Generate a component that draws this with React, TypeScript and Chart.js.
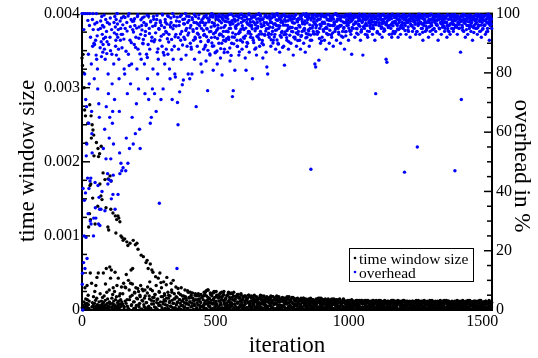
import React, { useEffect, useRef } from 'react';
import { Chart, registerables } from 'chart.js';

Chart.register(...registerables);

const FONT = '"Liberation Serif", "Times New Roman", serif';

const xTitle = 'iteration';
const leftTitle = 'time window size';
const rightTitle = 'overhead in %';
const seriesLabels = ['time window size', 'overhead'];

const xMajorTicks = [0, 500, 1000, 1500];
const xTickLabels = ['0', '500', '1000', '1500'];
const xMinorTicks = [250, 750, 1250];
const sizeMajorTicks = [0, 0.001, 0.002, 0.003, 0.004];
const sizeTickLabels = ['0', '0.001', '0.002', '0.003', '0.004'];
const sizeMinorTicks = [0.00025, 0.0005, 0.00075, 0.00125, 0.0015, 0.00175, 0.00225, 0.0025, 0.00275, 0.00325, 0.0035, 0.00375];
const pctMajorTicks = [0, 20, 40, 60, 80, 100];
const pctTickLabels = ['0', '20', '40', '60', '80', '100'];
const pctMinorTicks = [5, 10, 15, 25, 30, 35, 45, 50, 55, 65, 70, 75, 85, 90, 95];

const iterations = [
  0,1,2,3,4,5,6,7,8,9,
  10,11,12,13,14,15,16,17,18,19,
  20,21,22,23,24,25,26,27,28,29,
  30,31,32,33,34,35,36,37,38,39,
  40,41,42,43,44,45,46,47,48,49,
  50,51,52,53,54,55,56,57,58,59,
  60,61,62,63,64,65,66,67,68,69,
  70,71,72,73,74,75,76,77,78,79,
  80,81,82,83,84,85,86,87,88,89,
  90,91,92,93,94,95,96,97,98,99,
  100,101,102,103,104,105,106,107,108,109,
  110,111,112,113,114,115,116,117,118,119,
  120,121,122,123,124,125,126,127,128,129,
  130,131,132,133,134,135,136,137,138,139,
  140,141,142,143,144,145,146,147,148,149,
  150,
  152,154,156,158,160,162,164,166,168,170,
  172,174,176,178,180,182,184,186,188,190,
  192,194,196,198,200,202,204,206,208,210,
  212,214,216,218,220,222,224,226,228,230,
  232,234,236,238,240,242,244,246,248,250,
  252,254,256,258,260,262,264,266,268,270,
  272,274,276,278,280,282,284,286,288,290,
  292,294,296,298,300,302,304,306,308,310,
  312,314,316,318,320,322,324,326,328,330,
  332,334,336,338,340,342,344,346,348,350,
  352,354,356,358,360,362,364,366,368,370,
  372,374,376,378,380,382,384,386,388,390,
  392,394,396,398,400,402,404,406,408,410,
  412,414,416,418,420,422,424,426,428,430,
  432,434,436,438,440,442,444,446,448,450,
  453,456,459,462,465,468,471,474,477,480,
  483,486,489,492,495,498,501,504,507,510,
  513,516,519,522,525,528,531,534,537,540,
  543,546,549,552,555,558,561,564,567,570,
  573,576,579,582,585,588,591,594,597,600,
  603,606,609,612,615,618,621,624,627,630,
  633,636,639,642,645,648,651,654,657,660,
  663,666,669,672,675,678,681,684,687,690,
  693,696,699,702,705,708,711,714,717,720,
  723,726,729,732,735,738,741,744,747,750,
  753,756,759,762,765,768,771,774,777,780,
  783,786,789,792,795,798,801,804,807,810,
  813,816,819,822,825,828,831,834,837,840,
  843,846,849,852,855,858,861,864,867,870,
  873,876,879,882,885,888,891,894,897,900,
  903,906,909,912,915,918,921,924,927,930,
  933,936,939,942,945,948,951,954,957,960,
  963,966,969,972,975,978,981,984,987,990,
  993,996,999,1002,1005,1008,1011,1014,1017,1020,
  1023,1026,1029,1032,1035,1038,1041,1044,1047,1050,
  1053,1056,1059,1062,1065,1068,1071,1074,1077,1080,
  1083,1086,1089,1092,1095,1098,1101,1104,1107,1110,
  1113,1116,1119,1122,1125,1128,1131,1134,1137,1140,
  1143,1146,1149,1152,1155,1158,1161,1164,1167,1170,
  1173,1176,1179,1182,1185,1188,1191,1194,1197,1200,
  1203,1206,1209,1212,1215,1218,1221,1224,1227,1230,
  1233,1236,1239,1242,1245,1248,1251,1254,1257,1260,
  1263,1266,1269,1272,1275,1278,1281,1284,1287,1290,
  1293,1296,1299,1302,1305,1308,1311,1314,1317,1320,
  1323,1326,1329,1332,1335,1338,1341,1344,1347,1350,
  1353,1356,1359,1362,1365,1368,1371,1374,1377,1380,
  1383,1386,1389,1392,1395,1398,1401,1404,1407,1410,
  1413,1416,1419,1422,1425,1428,1431,1434,1437,1440,
  1443,1446,1449,1452,1455,1458,1461,1464,1467,1470,
  1473,1476,1479,1482,1485,1488,1491,1494,1497,1500,
  1503,1506,1509,1512,1515,1518,1521,1524,1527,1530,
  1533,1536,
  153,157,161,165,169,173,177,181,185,189,
  193,197,201,205,209,213,217,221,225,229,
  233,237,241,245,249,253,257,261,265,269,
  273,277,281,285,289,293,297,301,305,309,
  313,317,321,325,329,333,337,341,345,349,
  353,357,361,365,369,373,377,381,385,389,
  393,397,401,405,409,413,417,421,425,429,
  433,437,441,445,449,
  454,457,460,463,466,469,472,475,478,481,
  484,487,490,493,496,499,502,505,508,511,
  514,517,520,523,526,529,532,535,538,541,
  544,547,550,553,556,559,562,565,568,571,
  574,577,580,583,586,589,592,595,598,601,
  604,607,610,613,616,619,622,625,628,631,
  634,637,640,643,646,649,652,655,658,661,
  664,667,670,673,676,679,682,685,688,691,
  694,697,700,703,706,709,712,715,718,721,
  724,727,730,733,736,739,742,745,748,751,
  754,757,760,763,766,769,772,775,778,781,
  784,787,790,793,796,799,802,805,808,811,
  814,817,820,823,826,829,832,835,838,841,
  844,847,850,853,856,859,862,865,868,871,
  874,877,880,883,886,889,892,895,898,901,
  904,907,910,913,916,919,922,925,928,931,
  934,937,940,943,946,949,952,955,958,961,
  964,967,970,973,976,979,982,985,988,991,
  994,997,1000,1003,1006,1009,1012,1015,1018,1021,
  1024,1027,1030,1033,1036,1039,1042,1045,1048,1051,
  1054,1057,1060,1063,1066,1069,1072,1075,1078,1081,
  1084,1087,1090,1093,1096,1099,1102,1105,1108,1111,
  1114,1117,1120,1123,1126,1129,1132,1135,1138,1141,
  1144,1147,1150,1153,1156,1159,1162,1165,1168,1171,
  1174,1177,1180,1183,1186,1189,1192,1195,1198,1201,
  1204,1207,1210,1213,1216,1219,1222,1225,1228,1231,
  1234,1237,1240,1243,1246,1249,1252,1255,1258,1261,
  1264,1267,1270,1273,1276,1279,1282,1285,1288,1291,
  1294,1297,1300,1303,1306,1309,1312,1315,1318,1321,
  1324,1327,1330,1333,1336,1339,1342,1345,1348,1351,
  1354,1357,1360,1363,1366,1369,1372,1375,1378,1381,
  1384,1387,1390,1393,1396,1399,1402,1405,1408,1411,
  1414,1417,1420,1423,1426,1429,1432,1435,1438,1441,
  1444,1447,1450,1453,1456,1459,1462,1465,1468,1471,
  1474,1477,1480,1483,1486,1489,1492,1495,1498,1501,
  1504,1507,1510,1513,1516,1519,1522,1525,1528,1531,
  1534,
  455,458,461,464,467,470,473,476,479,482,
  485,488,491,494,497,500,503,506,509,512,
  515,518,521,524,527,530,533,536,539,542,
  545,548,551,554,557,560,563,566,569,572,
  575,578,581,584,587,590,593,596,599,602,
  605,608,611,614,617,620,623,626,629,632,
  635,638,641,644,647,650,653,656,659,662,
  665,668,671,674,677,680,683,686,689,692,
  695,698,701,704,707,710,713,716,719,722,
  725,728,731,734,737,740,743,746,749,752,
  755,758,761,764,767,770,773,776,779,782,
  785,788,791,794,797,800,803,806,809,812,
  815,818,821,824,827,830,833,836,839,842,
  845,848,851,854,857,860,863,866,869,872,
  875,878,881,884,887,890,893,896,899,902,
  905,908,911,914,917,920,923,926,929,932,
  935,938,941,944,947,950,953,956,959,962,
  965,968,971,974,977,980,983,986,989,992,
  995,998,1001,1004,1007,1010,1013,1016,1019,1022,
  1025,1028,1031,1034,1037,1040,1043,1046,1049,1052,
  1055,1058,1061,1064,1067,1070,1073,1076,1079,1082,
  1085,1088,1091,1094,1097,1100,1103,1106,1109,1112,
  1115,1118,1121,1124,1127,1130,1133,1136,1139,1142,
  1145,1148,1151,1154,1157,1160,1163,1166,1169,1172,
  1175,1178,1181,1184,1187,1190,1193,1196,1199,1202,
  1205,1208,1211,1214,1217,1220,1223,1226,1229,1232,
  1235,1238,1241,1244,1247,1250,1253,1256,1259,1262,
  1265,1268,1271,1274,1277,1280,1283,1286,1289,1292,
  1295,1298,1301,1304,1307,1310,1313,1316,1319,1322,
  1325,1328,1331,1334,1337,1340,1343,1346,1349,1352,
  1355,1358,1361,1364,1367,1370,1373,1376,1379,1382,
  1385,1388,1391,1394,1397,1400,1403,1406,1409,1412,
  1415,1418,1421,1424,1427,1430,1433,1436,1439,1442,
  1445,1448,1451,1454,1457,1460,1463,1466,1469,1472,
  1475,1478,1481,1484,1487,1490,1493,1496,1499,1502,
  1505,1508,1511,1514,1517,1520,1523,1526,1529,1532,
  1535,
];

// time window size (seconds), one value per entry of iterations
const timeWindowSize = [
  340e-5,3e-5,330e-5,6e-5,345e-5,2e-5,320e-5,11e-5,300e-5,4e-5,
  270e-5,30e-5,8e-5,262e-5,15e-5,5e-5,225e-5,1e-5,9e-5,33e-5,
  14e-5,3e-5,252e-5,20e-5,7e-5,112e-5,2e-5,12e-5,130e-5,277e-5,
  168e-5,50e-5,122e-5,170e-5,262e-5,232e-5,36e-5,4e-5,250e-5,10e-5,
  151e-5,243e-5,6e-5,18e-5,236e-5,208e-5,3e-5,9e-5,25e-5,116e-5,
  1e-5,13e-5,33e-5,5e-5,226e-5,16e-5,44e-5,2e-5,7e-5,140e-5,
  218e-5,50e-5,207e-5,4e-5,11e-5,1e-5,211e-5,170e-5,22e-5,6e-5,
  3e-5,154e-5,221e-5,12e-5,5e-5,149e-5,8e-5,17e-5,2e-5,185e-5,
  50e-5,10e-5,4e-5,19e-5,1e-5,6e-5,176e-5,13e-5,35e-5,3e-5,
  138e-5,56e-5,7e-5,24e-5,2e-5,9e-5,15e-5,112e-5,177e-5,5e-5,
  108e-5,3e-5,27e-5,11e-5,58e-5,181e-5,8e-5,43e-5,136e-5,174e-5,
  54e-5,4e-5,16e-5,2e-5,9e-5,21e-5,131e-5,30e-5,6e-5,12e-5,
  1e-5,7e-5,25e-5,3e-5,51e-5,127e-5,14e-5,104e-5,5e-5,18e-5,
  122e-5,33e-5,2e-5,10e-5,6e-5,127e-5,43e-5,12e-5,124e-5,3e-5,
  19e-5,8e-5,119e-5,22e-5,4e-5,14e-5,100e-5,6e-5,31e-5,11e-5,
  98e-5,
  8e-5,94e-5,36e-5,3e-5,96e-5,12e-5,30e-5,48e-5,92e-5,5e-5,
  87e-5,40e-5,1e-5,14e-5,90e-5,36e-5,54e-5,7e-5,20e-5,56e-5,
  94e-5,2e-5,11e-5,23e-5,88e-5,30e-5,6e-5,90e-5,15e-5,82e-5,
  25e-5,4e-5,9e-5,18e-5,33e-5,74e-5,1e-5,28e-5,12e-5,72e-5,
  7e-5,16e-5,27e-5,3e-5,64e-5,10e-5,67e-5,31e-5,56e-5,5e-5,
  19e-5,38e-5,62e-5,2e-5,13e-5,54e-5,26e-5,51e-5,8e-5,17e-5,
  4e-5,21e-5,45e-5,33e-5,10e-5,1e-5,15e-5,43e-5,6e-5,24e-5,
  50e-5,11e-5,37e-5,30e-5,3e-5,18e-5,8e-5,38e-5,14e-5,20e-5,
  2e-5,12e-5,34e-5,44e-5,6e-5,24e-5,16e-5,1e-5,10e-5,19e-5,
  5e-5,36e-5,27e-5,13e-5,3e-5,40e-5,9e-5,22e-5,15e-5,2e-5,
  31e-5,7e-5,17e-5,11e-5,29e-5,23e-5,4e-5,14e-5,9e-5,1e-5,
  30e-5,12e-5,19e-5,6e-5,15e-5,3e-5,10e-5,27e-5,18e-5,8e-5,
  13e-5,2e-5,26e-5,24e-5,7e-5,16e-5,11e-5,24e-5,4e-5,17e-5,
  9e-5,23e-5,16e-5,1e-5,12e-5,6e-5,20e-5,14e-5,19e-5,3e-5,
  10e-5,7e-5,22e-5,13e-5,15e-5,2e-5,11e-5,21e-5,5e-5,18e-5,
  4e-5,19e-5,9e-5,24e-5,2e-5,13e-5,27e-5,6e-5,16e-5,10e-5,
  1e-5,22e-5,8e-5,14e-5,25e-5,3e-5,11e-5,18e-5,5e-5,20e-5,
  12e-5,2e-5,23e-5,7e-5,17e-5,1e-5,21e-5,9e-5,14e-5,4e-5,
  19e-5,6e-5,24e-5,11e-5,3e-5,15e-5,8e-5,22e-5,1e-5,13e-5,
  7e-5,18e-5,2e-5,21e-5,10e-5,16e-5,4e-5,12e-5,20e-5,6e-5,
  14e-5,1e-5,19e-5,8e-5,17e-5,3e-5,11e-5,20e-5,5e-5,9e-5,
  2e-5,16e-5,12e-5,6e-5,19e-5,1e-5,13e-5,18e-5,4e-5,10e-5,
  15e-5,7e-5,20e-5,3e-5,11e-5,17e-5,1e-5,9e-5,14e-5,5e-5,
  18e-5,2e-5,12e-5,16e-5,6e-5,19e-5,10e-5,3e-5,13e-5,8e-5,
  1e-5,17e-5,9e-5,14e-5,4e-5,18e-5,7e-5,12e-5,2e-5,15e-5,
  11e-5,5e-5,16e-5,1e-5,13e-5,8e-5,17e-5,3e-5,10e-5,6e-5,
  14e-5,2e-5,9e-5,16e-5,5e-5,12e-5,1e-5,15e-5,7e-5,11e-5,
  3e-5,13e-5,8e-5,15e-5,1e-5,10e-5,16e-5,6e-5,12e-5,4e-5,
  9e-5,14e-5,2e-5,11e-5,7e-5,15e-5,3e-5,12e-5,5e-5,10e-5,
  1e-5,13e-5,8e-5,14e-5,4e-5,10e-5,16e-5,2e-5,11e-5,6e-5,
  12e-5,3e-5,9e-5,15e-5,1e-5,7e-5,13e-5,5e-5,10e-5,2e-5,
  14e-5,6e-5,11e-5,1e-5,9e-5,13e-5,4e-5,12e-5,8e-5,3e-5,
  10e-5,15e-5,2e-5,7e-5,12e-5,5e-5,14e-5,1e-5,9e-5,11e-5,
  4e-5,13e-5,8e-5,2e-5,11e-5,6e-5,14e-5,3e-5,10e-5,1e-5,
  12e-5,5e-5,9e-5,13e-5,2e-5,7e-5,11e-5,4e-5,13e-5,1e-5,
  8e-5,12e-5,3e-5,10e-5,6e-5,13e-5,1e-5,9e-5,11e-5,4e-5,
  2e-5,11e-5,7e-5,13e-5,5e-5,9e-5,1e-5,12e-5,4e-5,10e-5,
  13e-5,3e-5,8e-5,11e-5,1e-5,6e-5,12e-5,4e-5,9e-5,2e-5,
  10e-5,5e-5,12e-5,1e-5,8e-5,11e-5,3e-5,13e-5,6e-5,2e-5,
  9e-5,12e-5,4e-5,7e-5,11e-5,1e-5,10e-5,5e-5,12e-5,3e-5,
  6e-5,11e-5,2e-5,9e-5,12e-5,4e-5,8e-5,1e-5,10e-5,7e-5,
  3e-5,10e-5,11e-5,5e-5,1e-5,9e-5,12e-5,4e-5,7e-5,2e-5,
  11e-5,6e-5,1e-5,10e-5,8e-5,3e-5,11e-5,5e-5,9e-5,2e-5,
  7e-5,10e-5,4e-5,1e-5,11e-5,6e-5,9e-5,2e-5,10e-5,5e-5,
  1e-5,9e-5,11e-5,4e-5,7e-5,10e-5,2e-5,8e-5,11e-5,3e-5,
  10e-5,5e-5,2e-5,9e-5,11e-5,1e-5,7e-5,10e-5,4e-5,6e-5,
  2e-5,11e-5,8e-5,3e-5,10e-5,6e-5,1e-5,9e-5,11e-5,4e-5,
  9e-5,4e-5,10e-5,1e-5,7e-5,11e-5,3e-5,8e-5,2e-5,10e-5,
  5e-5,11e-5,2e-5,9e-5,6e-5,10e-5,1e-5,8e-5,11e-5,3e-5,
  10e-5,4e-5,7e-5,11e-5,1e-5,9e-5,5e-5,10e-5,2e-5,8e-5,
  3e-5,10e-5,6e-5,1e-5,11e-5,8e-5,2e-5,9e-5,10e-5,4e-5,
  7e-5,10e-5,
  22e-5,5e-5,31e-5,9e-5,14e-5,2e-5,27e-5,18e-5,6e-5,35e-5,
  11e-5,24e-5,3e-5,16e-5,29e-5,7e-5,20e-5,1e-5,13e-5,26e-5,
  4e-5,19e-5,10e-5,23e-5,2e-5,15e-5,28e-5,8e-5,17e-5,12e-5,
  21e-5,3e-5,14e-5,9e-5,25e-5,6e-5,18e-5,1e-5,11e-5,22e-5,
  7e-5,16e-5,2e-5,20e-5,12e-5,5e-5,24e-5,9e-5,15e-5,3e-5,
  18e-5,10e-5,1e-5,14e-5,21e-5,6e-5,12e-5,19e-5,4e-5,16e-5,
  9e-5,2e-5,17e-5,11e-5,20e-5,5e-5,13e-5,8e-5,22e-5,1e-5,
  14e-5,19e-5,6e-5,10e-5,17e-5,
  14e-5,3e-5,21e-5,8e-5,26e-5,1e-5,17e-5,11e-5,5e-5,23e-5,
  9e-5,19e-5,2e-5,15e-5,24e-5,6e-5,12e-5,20e-5,1e-5,16e-5,
  4e-5,22e-5,10e-5,18e-5,3e-5,13e-5,25e-5,7e-5,15e-5,1e-5,
  20e-5,11e-5,2e-5,17e-5,8e-5,23e-5,5e-5,14e-5,19e-5,3e-5,
  12e-5,1e-5,18e-5,9e-5,21e-5,4e-5,16e-5,6e-5,13e-5,2e-5,
  17e-5,6e-5,11e-5,19e-5,3e-5,14e-5,1e-5,9e-5,18e-5,7e-5,
  12e-5,2e-5,16e-5,8e-5,20e-5,4e-5,13e-5,10e-5,1e-5,15e-5,
  5e-5,18e-5,9e-5,14e-5,2e-5,11e-5,19e-5,6e-5,12e-5,3e-5,
  16e-5,1e-5,10e-5,17e-5,7e-5,13e-5,4e-5,18e-5,2e-5,9e-5,
  14e-5,8e-5,19e-5,3e-5,11e-5,15e-5,1e-5,12e-5,6e-5,17e-5,
  4e-5,13e-5,9e-5,16e-5,2e-5,18e-5,10e-5,5e-5,14e-5,1e-5,
  11e-5,17e-5,3e-5,8e-5,15e-5,6e-5,12e-5,1e-5,16e-5,9e-5,
  2e-5,14e-5,7e-5,12e-5,4e-5,16e-5,9e-5,1e-5,13e-5,6e-5,
  10e-5,3e-5,15e-5,8e-5,1e-5,12e-5,5e-5,14e-5,9e-5,2e-5,
  13e-5,6e-5,11e-5,1e-5,16e-5,4e-5,10e-5,7e-5,15e-5,3e-5,
  8e-5,12e-5,2e-5,14e-5,5e-5,10e-5,1e-5,13e-5,6e-5,11e-5,
  3e-5,15e-5,9e-5,1e-5,12e-5,7e-5,14e-5,4e-5,10e-5,2e-5,
  14e-5,5e-5,11e-5,8e-5,1e-5,13e-5,3e-5,9e-5,12e-5,6e-5,
  1e-5,11e-5,6e-5,13e-5,3e-5,9e-5,12e-5,2e-5,8e-5,10e-5,
  5e-5,12e-5,1e-5,10e-5,7e-5,13e-5,4e-5,11e-5,2e-5,9e-5,
  12e-5,3e-5,9e-5,6e-5,11e-5,1e-5,13e-5,5e-5,10e-5,7e-5,
  2e-5,10e-5,13e-5,4e-5,8e-5,11e-5,1e-5,12e-5,6e-5,9e-5,
  11e-5,5e-5,8e-5,12e-5,2e-5,10e-5,6e-5,13e-5,3e-5,9e-5,
  7e-5,1e-5,11e-5,9e-5,4e-5,12e-5,8e-5,2e-5,13e-5,5e-5,
  10e-5,6e-5,2e-5,12e-5,9e-5,1e-5,11e-5,4e-5,8e-5,12e-5,
  3e-5,13e-5,7e-5,10e-5,5e-5,11e-5,2e-5,9e-5,12e-5,1e-5,
  9e-5,4e-5,12e-5,6e-5,10e-5,2e-5,11e-5,8e-5,1e-5,13e-5,
  6e-5,11e-5,3e-5,9e-5,12e-5,5e-5,10e-5,1e-5,7e-5,11e-5,
  12e-5,2e-5,8e-5,11e-5,4e-5,9e-5,13e-5,6e-5,10e-5,3e-5,
  1e-5,10e-5,6e-5,12e-5,8e-5,3e-5,11e-5,5e-5,9e-5,12e-5,
  11e-5,7e-5,2e-5,10e-5,13e-5,4e-5,8e-5,12e-5,1e-5,9e-5,
  5e-5,12e-5,9e-5,3e-5,11e-5,7e-5,1e-5,10e-5,6e-5,12e-5,
  10e-5,2e-5,11e-5,8e-5,4e-5,12e-5,6e-5,9e-5,3e-5,11e-5,
  7e-5,13e-5,1e-5,10e-5,5e-5,11e-5,8e-5,2e-5,12e-5,6e-5,
  12e-5,4e-5,9e-5,11e-5,2e-5,10e-5,6e-5,13e-5,3e-5,8e-5,
  1e-5,11e-5,7e-5,12e-5,9e-5,4e-5,10e-5,5e-5,11e-5,2e-5,
  8e-5,
  6e-5,24e-5,12e-5,2e-5,19e-5,9e-5,27e-5,15e-5,4e-5,21e-5,
  13e-5,1e-5,23e-5,10e-5,17e-5,5e-5,25e-5,8e-5,19e-5,3e-5,
  18e-5,7e-5,14e-5,24e-5,1e-5,20e-5,11e-5,3e-5,16e-5,9e-5,
  2e-5,21e-5,13e-5,6e-5,22e-5,10e-5,17e-5,1e-5,24e-5,8e-5,
  15e-5,4e-5,19e-5,11e-5,2e-5,17e-5,7e-5,22e-5,10e-5,14e-5,
  3e-5,18e-5,8e-5,13e-5,1e-5,16e-5,10e-5,20e-5,5e-5,12e-5,
  19e-5,4e-5,9e-5,15e-5,11e-5,2e-5,17e-5,7e-5,14e-5,1e-5,
  10e-5,16e-5,4e-5,19e-5,8e-5,13e-5,2e-5,17e-5,6e-5,11e-5,
  5e-5,14e-5,1e-5,9e-5,16e-5,3e-5,12e-5,18e-5,7e-5,15e-5,
  10e-5,2e-5,13e-5,6e-5,17e-5,11e-5,4e-5,15e-5,1e-5,12e-5,
  16e-5,7e-5,3e-5,12e-5,9e-5,15e-5,1e-5,18e-5,6e-5,13e-5,
  4e-5,10e-5,17e-5,2e-5,13e-5,8e-5,15e-5,5e-5,11e-5,1e-5,
  12e-5,6e-5,16e-5,3e-5,10e-5,14e-5,1e-5,9e-5,15e-5,5e-5,
  1e-5,13e-5,6e-5,11e-5,16e-5,4e-5,9e-5,14e-5,2e-5,12e-5,
  7e-5,15e-5,3e-5,10e-5,1e-5,13e-5,8e-5,16e-5,5e-5,11e-5,
  14e-5,1e-5,10e-5,6e-5,13e-5,3e-5,15e-5,8e-5,11e-5,4e-5,
  9e-5,12e-5,2e-5,15e-5,7e-5,1e-5,11e-5,14e-5,5e-5,10e-5,
  3e-5,13e-5,7e-5,1e-5,10e-5,15e-5,4e-5,12e-5,8e-5,2e-5,
  12e-5,3e-5,9e-5,7e-5,11e-5,1e-5,13e-5,5e-5,10e-5,6e-5,
  8e-5,13e-5,2e-5,11e-5,5e-5,12e-5,1e-5,9e-5,13e-5,4e-5,
  11e-5,2e-5,13e-5,7e-5,4e-5,10e-5,12e-5,1e-5,8e-5,12e-5,
  6e-5,9e-5,1e-5,12e-5,10e-5,3e-5,13e-5,7e-5,11e-5,2e-5,
  9e-5,13e-5,5e-5,1e-5,11e-5,7e-5,4e-5,12e-5,10e-5,1e-5,
  12e-5,3e-5,9e-5,6e-5,11e-5,13e-5,2e-5,8e-5,10e-5,5e-5,
  4e-5,11e-5,7e-5,13e-5,1e-5,12e-5,6e-5,9e-5,3e-5,11e-5,
  13e-5,1e-5,10e-5,5e-5,8e-5,12e-5,3e-5,11e-5,6e-5,9e-5,
  7e-5,12e-5,2e-5,9e-5,11e-5,4e-5,13e-5,1e-5,10e-5,6e-5,
  9e-5,3e-5,12e-5,7e-5,1e-5,10e-5,13e-5,4e-5,11e-5,8e-5,
  2e-5,11e-5,6e-5,13e-5,9e-5,1e-5,12e-5,5e-5,8e-5,11e-5,
  12e-5,4e-5,9e-5,2e-5,11e-5,7e-5,13e-5,1e-5,10e-5,6e-5,
  6e-5,13e-5,1e-5,11e-5,4e-5,9e-5,12e-5,3e-5,8e-5,10e-5,
  11e-5,7e-5,10e-5,1e-5,12e-5,5e-5,9e-5,13e-5,3e-5,8e-5,
  4e-5,12e-5,6e-5,11e-5,13e-5,2e-5,10e-5,5e-5,12e-5,1e-5,
  12e-5,3e-5,9e-5,13e-5,1e-5,11e-5,6e-5,10e-5,4e-5,12e-5,
  8e-5,1e-5,12e-5,5e-5,10e-5,13e-5,3e-5,11e-5,7e-5,9e-5,
  11e-5,6e-5,2e-5,12e-5,9e-5,1e-5,10e-5,13e-5,5e-5,11e-5,
  4e-5,
];

// overhead in %, one value per entry of iterations
const overheadPct = [
  100,8.7,12.4,0,41,100,16,94.6,25,37,
  79.6,14,100,39.5,71,24.5,52,68.6,56,17.4,
  100,44.5,97.7,32.5,86.3,63,41,76.3,96,100,
  43.5,30,92,44.5,29,83,67,59.5,53,98,
  89,100,94.6,25,31,90,78,89.6,96.5,43,
  34.5,91,31,86,100,84.6,97,92.5,81.3,74.6,
  42,94.6,29,69.6,38,65,34,28.5,88.5,95,
  97.5,34,90.5,85.5,99,40,93,96,87,89.6,
  54.5,91.5,95.5,99.5,88,61,33.5,84.6,92,98,
  51,68.6,94,86.5,90.5,97,46,42.5,79.6,73,
  89.6,44,58,96.5,65,92,98.5,87.5,51,43.5,
  37.5,94.6,86.3,76.3,63,67,39,45.5,56,83,
  97,93.5,71,99,34,95.5,89,91,98,86,
  93,100,100,96.5,92,39,94.6,88,84.6,78,
  67,53,46,97.5,91,95,49.5,93,98.5,47,
  88.5,
  93,48,99,81.3,79.6,95,47,58,97,73,
  49.5,86.3,100,54.5,91,76.3,98,83,65,94.6,
  56,97.5,89.6,96,59.5,92,69.6,81.3,99,88,
  74.6,95.5,61,54.5,93,84.6,96,98.5,90,91.3,
  97,83,73,94,96,86.3,99.5,78,89.6,71,
  95,88,63,97.5,65,92,74.6,81.3,99,90.5,
  73,96,93.5,67,98,87,79.6,84.6,95,36,
  91,97,71,96,89,99.5,74.6,93,86,83,
  98,94,88,96.5,91.5,86.3,99,93,81.3,78,
  95.5,97,91.3,71,100,84.6,96,89,79.6,78.6,
  93,97.5,14,70,62.5,88,96,73.6,99,91,
  84.6,94,76,98,77.6,92,96.5,91.3,100,86,
  95,89,97,79.6,93.5,99,78,90,96,88,
  79.6,98,94.6,91,97,84.6,92,99,68.6,95,
  89,96.5,93,99.5,87,92,97,83,95,80.3,
  97,88,93,99,84,95,74,91,98,86,
  94,100,89,80.9,96,92,87,99,83,95,
  90,97.5,85,93,79.3,98,91,88,96,94,
  99,87,92,95,84,97,90,72,74,98,
  80.9,93,96,89,99,86,94,91,97,88,
  95,92,99,85,80.9,97,90,94,87,98,
  93,96,78,91,99,88,95,86,97,92,
  100,89,94,98,90,85,96,93,99,87,
  82,79.6,95,92,98,89,97,94,91,99,
  93,88,96,100,90,95,87,98,92,94,
  97,89,82.6,99,93,91,96,88,95,98,
  90,94,97,86,99,92,95,89,98,93,
  96,91,88,99,94,97,90,95,87,100,
  92,98,93,89,95,47.5,91,99,94,97,
  83,82,96,93,98,84.3,95,90,99,92,
  97,94,91,99,88,95,98,93,90,96,
  99,92,96,89,97,94,100,91,98,95,
  93,98,90,96,99,92,95,88,97,94,
  96,99,91,97,94,93,86.3,98,95,99,
  92,97,95,99,93,96,98,91,94,97,
  86,99,95,93,98,96,92,99,94,97,
  95,98,93,96,99,91,73,97,94,98,
  96,93,99,95,92,98,94,97,99,84.6,
  83.6,96,98,93,99,95,92,97,94,99,
  97,94,99,96,92,98,95,93,99,97,
  95,98,46.5,96,93,99,97,94,98,92,
  99,96,94,98,95,97,93,99,55,96,
  98,93,97,95,99,91,96,98,94,97,
  95,99,92,97,94,98,96,93,99,95,
  97,94,99,96,91,98,95,97,93,99,
  96,98,94,97,99,92,95,98,96,93,
  99,95,97,94,98,47,96,99,93,97,
  95,98,87,71,96,99,94,97,92,98,
  96,93,99,95,98,94,97,91,99,96,
  98,95,97,93,99,96,94,98,92,97,
  95,99,96,93,98,97,94,99,91,96,
  98,95,
  96.2,91.4,98.7,87.3,94.1,99.2,82.5,95.6,90.2,97.4,
  93.8,98.3,88.6,95.1,99.6,91.7,86.4,97.9,94.5,89.8,
  98.9,92.6,96.4,85.2,99.1,93.3,97.2,90.8,95.7,98.1,
  91.2,96.8,99.4,88.1,94.7,97.6,92.4,99.8,86.9,95.3,
  97.1,93.6,99.3,90.4,96.2,98.5,87.8,94.9,99.0,92.2,
  95.8,98.8,91.9,97.3,93.1,99.5,89.4,96.6,98.2,94.3,
  99.1,92.8,97.7,95.2,88.7,98.6,94.0,99.7,91.5,96.9,
  93.4,98.4,95.9,90.6,97.8,
  98.4,92.7,96.1,89.3,99.5,94.8,87.6,97.2,93.9,99.0,
  95.5,90.1,98.8,93.2,96.7,86.8,99.3,94.4,91.6,97.9,
  99.6,93.1,88.2,96.9,98.6,92.3,95.4,99.2,90.7,97.3,
  94.1,98.2,91.3,99.7,96.2,85.9,97.6,93.5,99.1,92.0,
  97.4,95.0,99.4,88.9,96.5,98.7,93.7,91.1,99.8,95.9,
  99.2,94.6,97.8,92.5,98.9,90.3,96.4,99.6,93.8,97.1,
  95.7,98.5,91.8,99.3,96.9,94.2,88.4,98.1,95.1,99.7,
  93.0,97.5,99.1,95.6,90.9,98.3,96.0,92.7,99.5,94.9,
  98.8,96.3,93.4,99.0,97.0,91.2,98.6,95.3,99.4,92.1,
  96.6,99.8,94.5,97.7,89.7,98.2,95.8,99.2,93.6,97.4,
  99.5,92.9,98.0,96.1,99.1,94.3,97.6,90.5,98.7,95.4,
  97.9,99.3,93.9,96.8,98.4,91.4,99.6,95.0,97.2,94.0,
  98.1,95.5,99.4,92.6,97.3,99.8,94.7,96.5,99.0,93.3,
  96.9,99.2,94.1,98.6,91.0,97.8,99.5,95.9,93.2,98.3,
  99.7,95.2,97.5,99.1,93.7,98.0,96.3,99.4,90.8,97.1,
  94.6,98.9,96.7,99.3,95.4,97.9,92.9,99.6,96.1,98.5,
  97.7,99.0,93.5,98.2,96.4,99.7,94.9,97.4,99.2,95.6,
  99.4,96.0,98.7,92.4,99.1,97.2,95.3,98.8,93.9,99.5,
  97.0,99.3,95.1,98.4,99.8,94.2,97.9,99.1,96.3,98.6,
  99.5,96.8,93.4,99.0,97.6,98.9,95.7,99.4,94.6,97.3,
  98.2,99.7,96.0,97.8,99.2,92.8,98.5,96.9,99.6,95.3,
  96.5,98.8,99.4,94.9,97.1,99.0,96.2,98.3,93.6,99.7,
  99.1,95.9,98.0,99.5,96.6,97.7,99.3,94.3,98.6,96.8,
  97.5,99.6,95.4,98.1,99.0,96.3,93.1,99.4,97.2,98.7,
  99.3,96.7,98.4,94.8,99.7,97.0,98.9,95.6,99.1,96.1,
  95.2,98.6,99.5,96.9,97.8,99.2,94.5,98.0,99.6,97.4,
  98.3,95.8,99.0,97.3,99.4,96.4,98.8,93.9,97.7,99.3,
  96.6,99.7,97.1,98.5,95.0,99.1,96.8,98.2,99.5,94.4,
  99.0,97.4,95.5,99.3,98.1,96.2,99.6,97.9,94.7,98.6,
  97.8,99.2,96.5,98.0,99.7,95.1,98.4,99.0,96.9,97.5,
  99.4,95.7,98.7,97.2,99.1,96.0,94.2,99.5,98.3,96.6,
  98.1,99.6,96.3,94.9,99.0,97.6,98.8,95.4,99.3,97.0,
  96.4,98.5,99.2,97.7,95.3,99.7,96.9,98.2,99.4,94.6,
  99.1,97.3,98.6,95.9,99.5,96.7,97.9,99.0,95.2,98.4,
  97.6,99.3,95.0,98.9,96.2,99.6,97.4,94.1,99.1,98.0,
  98.7,96.1,99.4,97.5,93.8,98.3,99.7,96.6,97.8,99.2,
  96.4,
  94.3,99.1,88.7,96.8,92.2,98.5,90.6,97.7,86.4,99.4,
  91.9,97.0,99.7,89.1,95.8,93.6,98.2,87.4,96.1,99.0,
  92.8,98.9,95.2,90.0,99.5,94.0,86.9,97.4,98.6,91.5,
  99.3,93.9,97.1,88.4,95.0,99.8,92.1,96.6,89.8,98.0,
  95.6,99.2,91.0,97.8,93.3,87.1,99.6,94.7,98.4,90.4,
  97.5,91.7,99.4,95.1,88.9,98.1,93.4,99.9,96.0,92.0,
  99.0,94.9,97.3,90.2,98.8,96.2,99.5,92.4,95.7,98.3,
  91.3,99.6,96.5,93.1,98.0,89.5,97.0,99.2,94.1,96.9,
  98.6,92.9,99.3,95.5,97.2,93.0,99.8,90.1,96.4,98.9,
  94.4,97.9,91.1,99.4,95.9,98.5,92.6,97.1,99.0,88.6,
  96.1,99.7,93.8,97.4,91.9,98.9,95.0,99.3,92.7,97.8,
  99.1,95.3,98.2,92.0,96.8,99.5,93.5,97.6,90.9,98.4,
  95.9,99.3,92.3,98.1,96.6,99.8,94.2,97.5,91.8,99.0,
  98.7,94.5,99.6,96.2,92.8,98.4,95.1,99.2,97.3,93.1,
  96.4,99.1,94.0,97.9,99.5,91.6,98.2,95.8,99.7,96.7,
  99.3,97.1,95.0,98.8,93.3,99.6,96.3,97.7,94.4,99.1,
  92.9,98.5,99.4,96.0,97.2,94.8,99.8,95.5,98.1,93.7,
  98.3,95.7,97.6,99.2,94.0,98.9,96.9,99.5,92.5,97.9,
  99.6,96.1,98.2,94.4,99.1,97.4,95.3,98.8,99.5,96.6,
  97.2,99.3,94.9,98.6,96.4,99.8,97.7,93.8,98.9,99.4,
  95.6,98.1,99.6,96.7,98.5,94.1,99.2,97.5,95.9,98.0,
  99.0,97.3,95.1,99.5,98.2,96.5,99.1,93.5,97.8,99.6,
  96.9,98.6,99.3,95.4,97.2,99.7,94.8,98.4,96.2,99.0,
  98.8,95.3,97.9,99.4,96.1,98.3,99.8,95.9,97.1,93.3,
  97.4,99.5,96.3,98.0,94.6,99.2,97.8,96.0,98.7,99.4,
  99.7,96.8,94.3,98.5,99.0,97.1,95.5,99.3,98.2,96.4,
  96.0,98.9,99.5,95.2,97.6,99.1,98.4,94.0,96.7,99.8,
  98.6,97.0,99.3,96.5,93.7,98.2,99.6,97.3,95.8,99.0,
  97.1,99.4,98.0,95.6,99.8,96.9,94.5,98.7,97.5,99.2,
  99.5,96.2,97.7,99.0,98.3,94.9,99.4,96.6,98.1,95.4,
  96.8,99.1,95.0,98.4,97.0,99.6,96.1,93.9,99.3,98.5,
  99.2,97.5,98.9,96.3,99.7,95.5,97.9,99.0,96.4,98.2,
  95.1,98.7,97.3,99.4,94.4,98.0,99.6,96.7,97.6,99.1,
  98.4,96.0,99.5,97.2,98.8,95.7,99.0,97.9,93.6,99.3,
  96.5,99.7,98.1,95.3,99.2,97.4,98.6,96.1,99.5,94.7,
  99.0,97.7,96.2,99.4,98.3,95.0,99.8,97.0,98.5,96.9,
  98.2,
];

const decorPlugin = {
  id: 'decor',
  beforeDatasetsDraw(chart: any) {
    const ctx = chart.ctx;
    const { left, right, top, bottom } = chart.chartArea;
    const sx = chart.scales.x;
    const sl = chart.scales.ySize;
    const sr = chart.scales.yPct;
    ctx.save();
    ctx.strokeStyle = '#000';
    ctx.lineWidth = 1.5;
    const tick = (x1: number, y1: number, x2: number, y2: number) => {
      ctx.beginPath();
      ctx.moveTo(x1, y1);
      ctx.lineTo(x2, y2);
      ctx.stroke();
    };
    const MAJ = 8, MIN = 5;
    xMajorTicks.forEach((v) => { const p = sx.getPixelForValue(v); tick(p, bottom, p, bottom - MAJ); tick(p, top, p, top + MAJ); });
    xMinorTicks.forEach((v) => { const p = sx.getPixelForValue(v); tick(p, bottom, p, bottom - MIN); tick(p, top, p, top + MIN); });
    sizeMajorTicks.forEach((v) => { const p = sl.getPixelForValue(v); tick(left, p, left + MAJ, p); });
    sizeMinorTicks.forEach((v) => { const p = sl.getPixelForValue(v); tick(left, p, left + MIN, p); });
    pctMajorTicks.forEach((v) => { const p = sr.getPixelForValue(v); tick(right, p, right - MAJ, p); });
    pctMinorTicks.forEach((v) => { const p = sr.getPixelForValue(v); tick(right, p, right - MIN, p); });
    ctx.lineWidth = 2;
    ctx.strokeRect(left, top, right - left, bottom - top);
    ctx.restore();
  },
  afterDraw(chart: any) {
    const ctx = chart.ctx;
    const { left, right } = chart.chartArea;
    ctx.save();
    ctx.fillStyle = '#000';
    ctx.font = `23px ${FONT}`;
    ctx.textAlign = 'center';
    ctx.textBaseline = 'alphabetic';
    ctx.fillText(xTitle, (left + right) / 2, 352);
    ctx.save();
    ctx.translate(34, 161);
    ctx.rotate(-Math.PI / 2);
    ctx.fillText(leftTitle, 0, 0);
    ctx.restore();
    ctx.save();
    ctx.translate(515, 166);
    ctx.rotate(Math.PI / 2);
    ctx.fillText(rightTitle, 0, 0);
    ctx.restore();

    // legend
    ctx.fillStyle = '#fff';
    ctx.fillRect(349, 248, 124, 33);
    ctx.strokeStyle = '#000';
    ctx.lineWidth = 1;
    ctx.strokeRect(349.5, 248.5, 124, 33);
    ctx.font = `15.5px ${FONT}`;
    ctx.textAlign = 'left';
    ctx.fillStyle = '#000';
    ctx.beginPath(); ctx.arc(355, 258, 1.3, 0, Math.PI * 2); ctx.fill();
    ctx.fillText(seriesLabels[0], 359, 263.5);
    ctx.fillStyle = '#0000ff';
    ctx.beginPath(); ctx.arc(355, 272, 1.3, 0, Math.PI * 2); ctx.fill();
    ctx.fillStyle = '#000';
    ctx.fillText(seriesLabels[1], 359, 278);
    ctx.restore();
  },
};

export default function App() {
  const ref = useRef<HTMLCanvasElement | null>(null);
  useEffect(() => {
    document.body.style.margin = '0';
    const canvas = ref.current;
    if (!canvas) return;
    const blackPts = iterations.map((x, i) => ({ x, y: timeWindowSize[i] }));
    const bluePts = iterations.map((x, i) => ({ x, y: overheadPct[i] }));
    const tickFont = { family: FONT, size: 16 };
    const chart = new Chart(canvas, {
      type: 'scatter',
      data: {
        datasets: [
          {
            label: seriesLabels[1],
            data: bluePts,
            yAxisID: 'yPct',
            backgroundColor: '#0000ff',
            pointBackgroundColor: '#0000ff',
            pointBorderWidth: 0,
            pointRadius: 1.7,
            clip: false,
          } as any,
          {
            label: seriesLabels[0],
            data: blackPts,
            yAxisID: 'ySize',
            backgroundColor: '#000',
            pointBackgroundColor: '#000',
            pointBorderWidth: 0,
            pointRadius: 1.7,
            clip: false,
          } as any,
        ],
      },
      options: {
        animation: false,
        responsive: false,
        devicePixelRatio: 1,
        events: [],
        layout: { padding: { top: 11, left: 0, right: 0, bottom: 0 } },
        plugins: { legend: { display: false }, tooltip: { enabled: false } },
        scales: {
          x: {
            type: 'linear',
            position: 'bottom',
            min: 0,
            max: 1537,
            afterBuildTicks: (s: any) => { s.ticks = xMajorTicks.map((v) => ({ value: v })); },
            afterFit: (s: any) => { s.height = 48; },
            ticks: {
              callback: (_v: any, i: number) => xTickLabels[i],
              font: tickFont,
              color: '#000',
              padding: 2,
              maxRotation: 0,
              autoSkip: false,
            },
            grid: { display: false, drawTicks: false },
            border: { display: false },
          },
          ySize: {
            type: 'linear',
            position: 'left',
            min: 0,
            max: 0.004,
            afterBuildTicks: (s: any) => { s.ticks = sizeMajorTicks.map((v) => ({ value: v })); },
            afterFit: (s: any) => { s.width = 82; },
            ticks: {
              callback: (_v: any, i: number) => sizeTickLabels[i],
              font: tickFont,
              color: '#000',
              padding: 2,
              autoSkip: false,
            },
            grid: { display: false, drawTicks: false },
            border: { display: false },
          },
          yPct: {
            type: 'linear',
            position: 'right',
            min: 0,
            max: 100,
            afterBuildTicks: (s: any) => { s.ticks = pctMajorTicks.map((v) => ({ value: v })); },
            afterFit: (s: any) => { s.width = 46; },
            ticks: {
              callback: (_v: any, i: number) => pctTickLabels[i],
              font: tickFont,
              color: '#000',
              padding: 4,
              autoSkip: false,
            },
            grid: { display: false, drawTicks: false },
            border: { display: false },
          },
        },
      } as any,
      plugins: [decorPlugin],
    });
    return () => chart.destroy();
  }, []);
  return <canvas ref={ref} width={538} height={358} style={{ display: 'block', width: 538, height: 358 }} />;
}
